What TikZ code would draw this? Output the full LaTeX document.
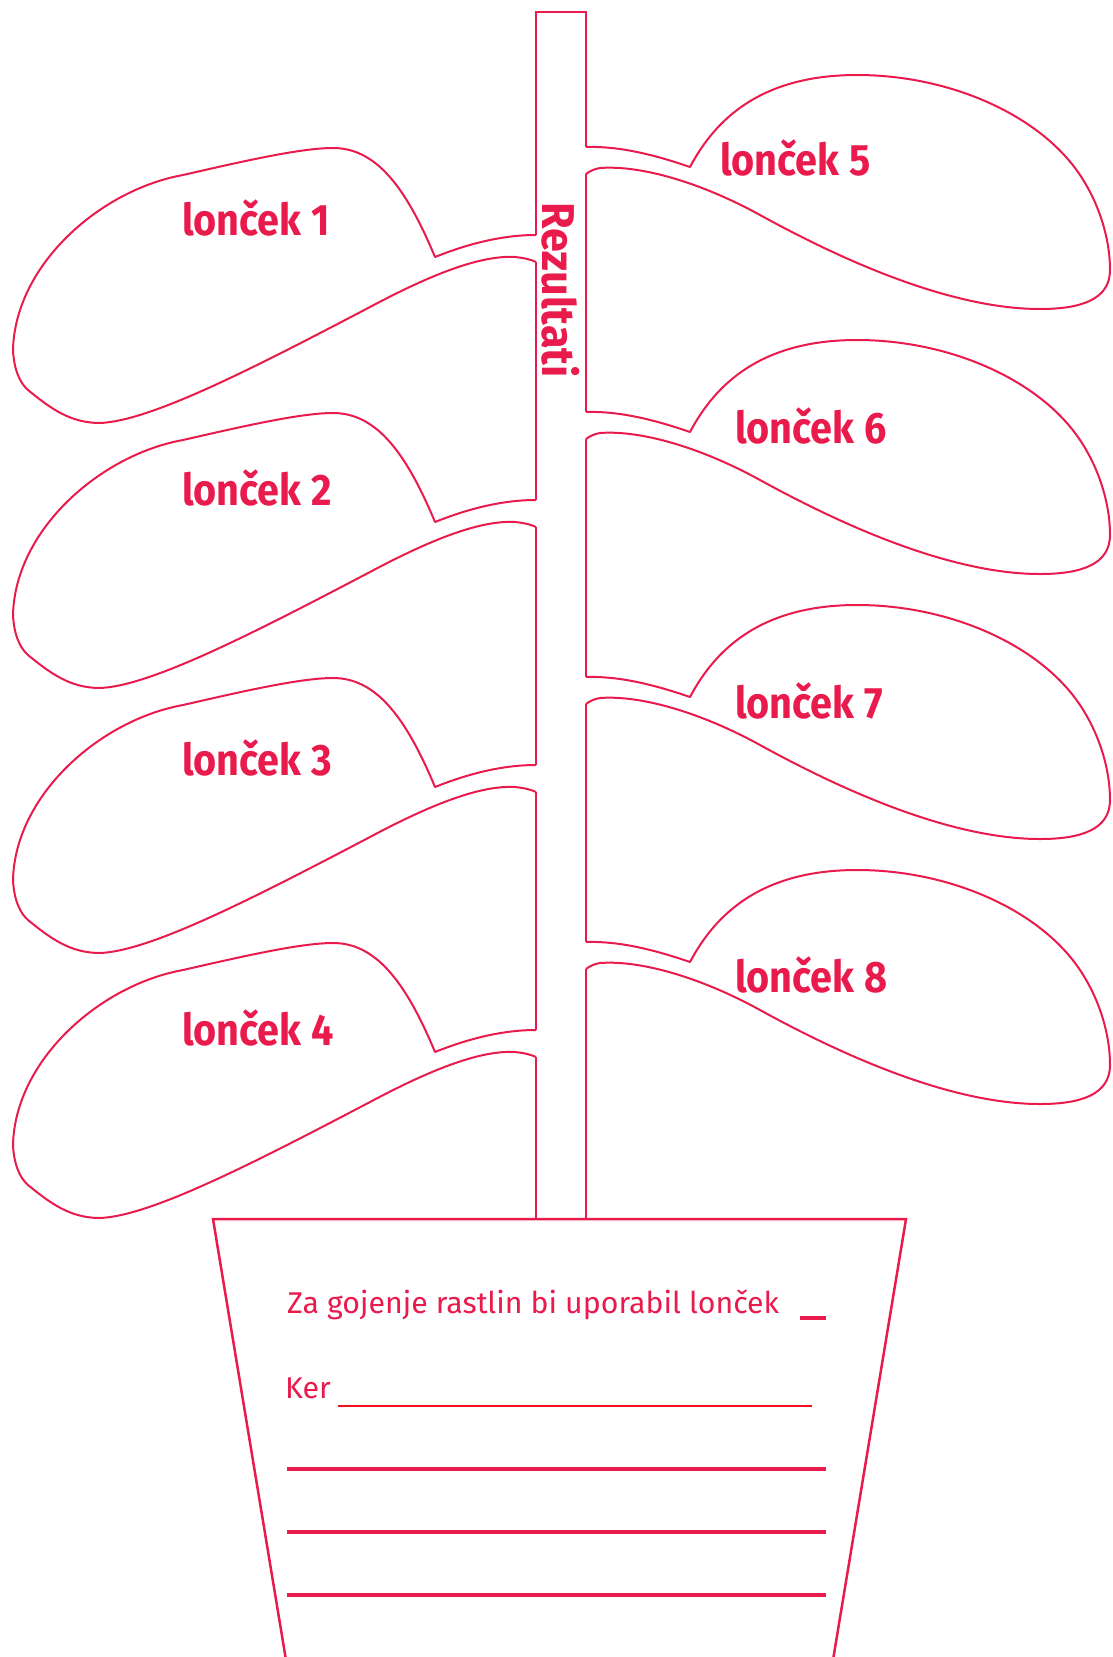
\documentclass[tikz,border=0pt]{standalone}
\usepackage{fontspec}
\usetikzlibrary{calc}
\newfontfamily\labelfont[FakeStretch=0.9]{Fira Sans}
\newfontfamily\stemfont[FakeStretch=0.94]{Fira Sans}
\newfontfamily\potfont[FakeStretch=1.01]{Fira Sans}
\definecolor{LRose}{HTML}{E91A4C}
\definecolor{LRed}{HTML}{F5101E}

\begin{document}
\begin{tikzpicture}[x=1pt,y=-1pt,
    leaf/.style={draw=LRose,line width=2pt,line join=round},
    stem/.style={draw=LRose,line width=2pt},
    lbl/.style={anchor=base west,inner sep=0pt,text=LRose,font=\labelfont\bfseries\fontsize{44}{44}\selectfont},
    potlbl/.style={anchor=base west,inner sep=0pt,text=LRose,font=\potfont\fontsize{30}{30}\selectfont},
    rule/.style={draw=LRose,line width=3.5pt}]
\useasboundingbox (0,0) rectangle (1112,1657);
% stem
\draw[stem] (536,235) -- (536,12) -- (586,12) -- (586,147);
\foreach \k in {0,1,2}
{
    \draw[stem] (536,262+265*\k) -- (536,500+265*\k);
    \draw[stem] (586,174+265*\k) -- (586,412+265*\k);
}
\draw[stem] (536,1057) -- (536,1219);
\draw[stem] (586,969) -- (586,1219);
\node[rotate=-90,anchor=base,inner sep=0pt,text=LRose,font=\stemfont\bfseries\fontsize{46}{46}\selectfont] (rez) at (542,290) {Rezultati};
% leaves
\foreach \k in {0,...,3}
{
    \draw[leaf,shift={(0,265*\k)}] (536,235) .. controls (500,235) and (465,245) .. (435,257)
        .. controls (405,185) and (375,148) .. (333,148)
        .. controls (300,148) and (240,162) .. (183,175)
        .. controls (100,190) and (15,265) .. (13,350)
        .. controls (14,370) and (20,383) .. (28,390)
        .. controls (50,408) and (70,423) .. (100,423)
        .. controls (150,421) and (250,370) .. (370,307)
        .. controls (430,275) and (480,255) .. (515,257)
        .. controls (525,258) and (532,260) .. (536,262);
    \draw[leaf,shift={(0,265*\k)}] (586,147) .. controls (620,146) and (655,155) .. (690,167)
        .. controls (715,120) and (760,75) .. (857,75)
        .. controls (950,75) and (1040,115) .. (1080,175)
        .. controls (1100,205) and (1110,240) .. (1110,270)
        .. controls (1110,300) and (1080,309) .. (1040,309)
        .. controls (960,309) and (860,270) .. (760,215)
        .. controls (700,182) and (640,165) .. (600,168)
        .. controls (594,169) and (590,171) .. (586,174);
}
\foreach \t/\x/\y in {1/182/235, 2/182/505, 3/182/775, 4/182/1045, 5/720/175, 6/735/443, 7/735/718, 8/735/992}
    \node[lbl] (lon\t) at (\x,\y) {lonček \t};
% pot
\draw[stem,line width=2.5pt,line join=miter] (286,1660) -- (213,1219) -- (906,1219) -- (833,1660);
\node[potlbl] (za) at (287,1313) {Za gojenje rastlin bi uporabil lonček};
\draw[rule] (800,1318) -- (826,1318);
\node[potlbl] (ker) at (285,1398) {Ker};
\draw[draw=LRed,line width=2pt] (338,1406) -- (812,1406);
\foreach \y in {1469,1532,1595}
    \draw[rule] (287,\y) -- (826,\y);
\end{tikzpicture}
\end{document}
